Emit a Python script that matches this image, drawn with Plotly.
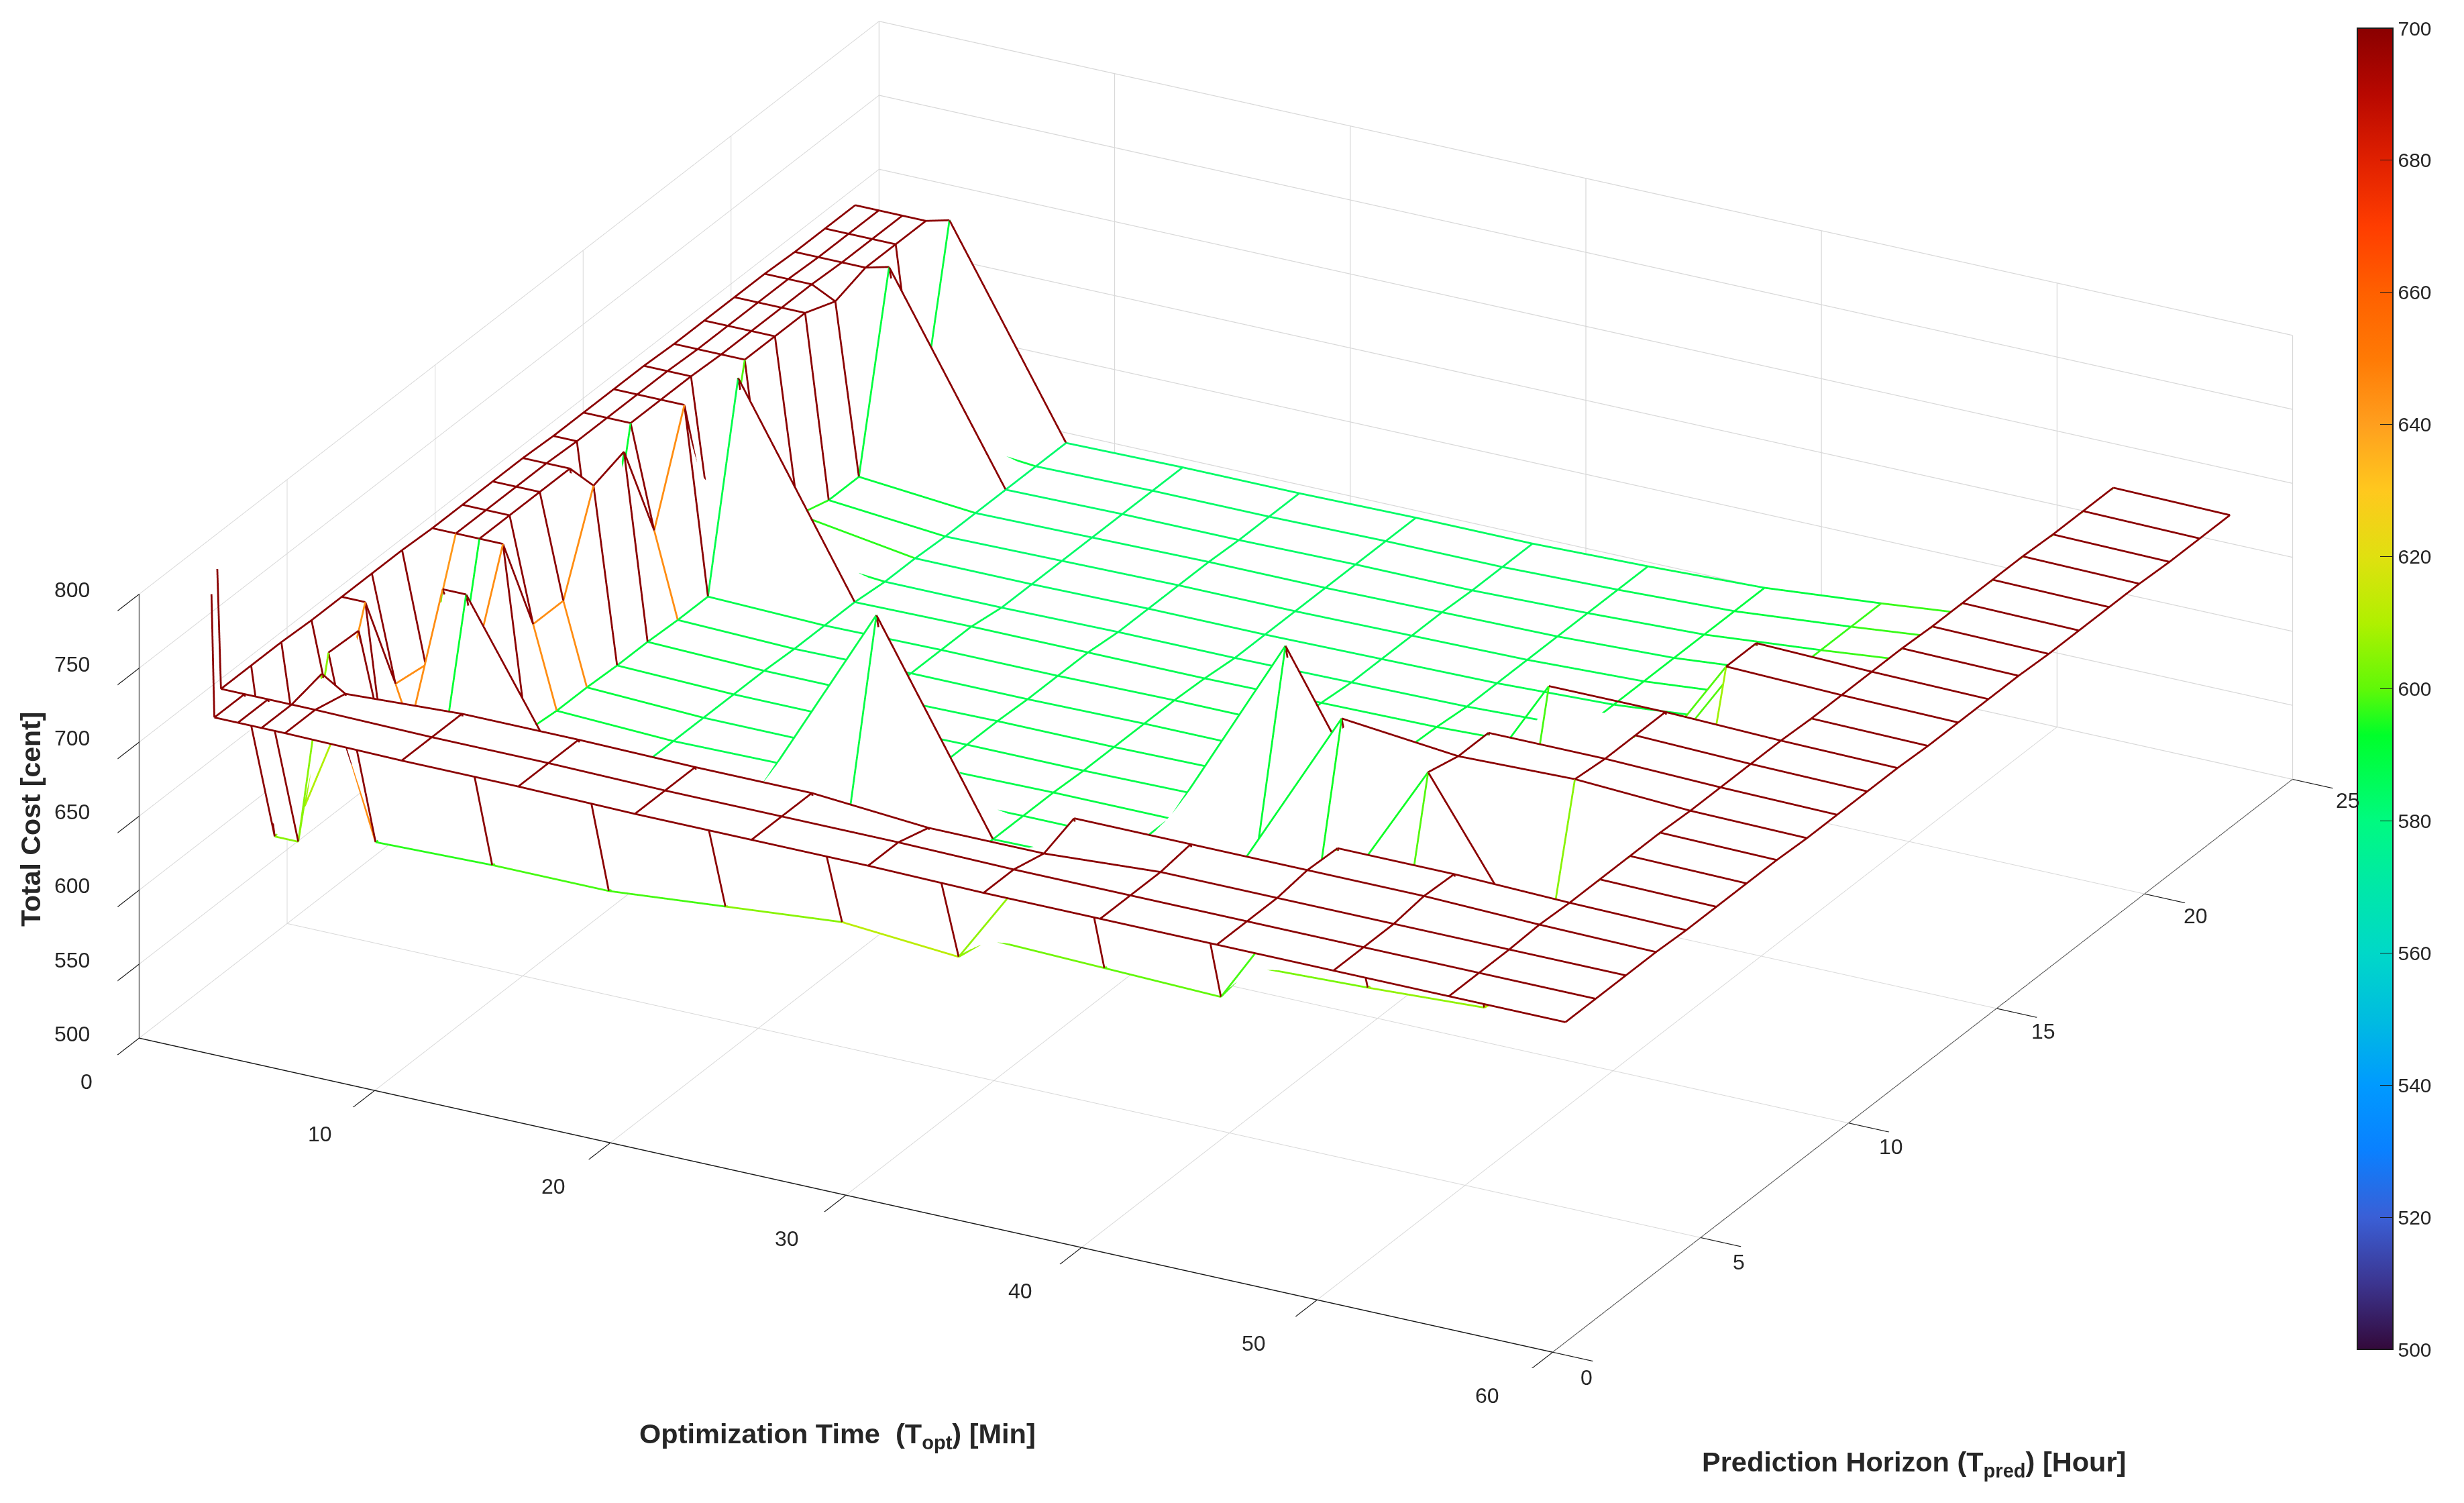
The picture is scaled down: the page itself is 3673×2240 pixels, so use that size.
import plotly.graph_objects as go

# optimization time [min] and prediction horizon [hour] of the grid
t_opt = [1.5, 2.5, 3.5, 4.5, 5.5, 10.45, 15.4, 20.35, 25.3, 30.25, 35.15, 40.1, 45.05, 50, 54.9, 59.85]
t_pred = [0.55, 1.57, 2.59, 3.61, 4.63, 5.65, 6.67, 7.69, 8.71, 9.73, 10.75, 11.77,
          12.80, 13.82, 14.84, 15.86, 16.88, 17.90, 18.92, 19.94, 20.96, 21.98, 23.0]
nan = float('nan')

# total cost [cent], one row per prediction horizon
cost = [
    [1400, 717, 717, 717, 717, 716, 716, 715, 715, 715, 714, 714, 714, 714, 714, 714],
    [717, 717, 717, 717, 717, 716, 716, 715, 715, 715, 714, 714, 714, 714, 714, 714],
    [717, 605, 605, 722, 712, 716, 716, 715, 715, 709, 709, 714, 714, 714, 714, 714],
    [717, 610, 717, 645, 596, 598, 598, 605, 612, 606, 717, 717, 717, 717, 715, 714],
    [716, 643, 716, 648, 592, 592, 591, 591, 592, 602, 600, 598, 716, 716, 714, 713],
    [716, 716, 592, 645, 592, 590, 590, 590, 591, 592, 594, 603, 606, 610, 714, 713],
    [716, 645, 602, 716, 716, 588, 588, 589, 590, 591, 592, 594, 599, 605, 714, 713],
    [716, 642, 592, 645, 592, 587, 588, 589, 590, 590, 591, 594, 720, 605, 714, 713],
    [715, 715, 715, 715, 592, 587, 588, 723, 589, 590, 591, 723, 715, 717, 713, 712],
    [715, 715, 715, 645, 590, 587, 588, 588, 589, 589, 591, 593, 715, 715, 713, 712],
    [715, 715, 715, 645, 590, 587, 587, 588, 589, 589, 723, 593, 598, 715, 713, 712],
    [715, 715, 715, 707, 589, 587, 587, 588, 588, 589, 590, 592, 715, 715, 713, 712],
    [714, 714, 592, 714, 589, 587, 587, 588, 588, 589, 590, 592, nan, 608, 712, 711],
    [714, 714, 714, 645, 588, 586, 587, 587, 588, 588, 590, 592, 599, 714, 712, 711],
    [714, 714, 714, 714, 588, 586, 587, 587, 588, 588, 590, 592, 599, 714, 712, 711],
    [714, 714, 714, 599, 720, 586, 587, 587, 587, 588, 589, 592, 599, 607, 712, 711],
    [713, 713, 713, 713, 590, 584, 584, 585, 585, 586, 587, 590, 597, 605, 711, 710],
    [713, 713, 713, 713, 596, 584, 584, 585, 585, 586, 587, 590, 597, 605, 711, 710],
    [713, 713, 713, 713, 590, 583, 584, 585, 585, 586, 587, 590, 597, 605, 711, 710],
    [713, 713, 713, 705, 590, 583, 584, 585, 585, 586, 587, 590, 597, 605, 711, 710],
    [712, 712, 712, 712, 716, 583, 584, 584, 585, 585, 587, 590, 597, 605, 710, 709],
    [712, 712, 712, 712, 590, 583, 584, 584, 585, 585, 587, 590, 597, 605, 710, 709],
    [712, 712, 712, 712, 716, 583, 584, 584, 585, 585, 587, 590, 597, 605, 710, 709],
]

x_ticks = [0, 10, 20, 30, 40, 50, 60]
y_ticks = [0, 5, 10, 15, 20, 25]
z_ticks = [500, 550, 600, 650, 700, 750, 800]
bar_ticks = [500, 520, 540, 560, 580, 600, 620, 640, 660, 680, 700]

# colormap picked from the colorbar
cmap = [[0.00, '#33093a'], [0.05, '#3c3590'], [0.10, '#3a5fd6'], [0.15, '#0a80ff'],
        [0.20, '#009aff'], [0.25, '#00bce0'], [0.30, '#00d8c8'], [0.35, '#00e8a8'],
        [0.40, '#00fa80'], [0.465, '#00ff2a'], [0.50, '#60f808'], [0.55, '#b0f000'],
        [0.60, '#e0e010'], [0.65, '#ffc81e'], [0.70, '#ff9f1e'], [0.75, '#ff7a05'],
        [0.80, '#ff6000'], [0.85, '#ff3d00'], [0.90, '#e02000'], [0.95, '#b80800'],
        [1.00, '#8a0000']]

# mesh edges, each takes the colour of its lower-index vertex
ex, ey, ez, ec = [], [], [], []
for j, y in enumerate(t_pred):
    for i, x in enumerate(t_opt):
        z = cost[j][i]
        if z != z:
            continue
        if i + 1 < len(t_opt) and cost[j][i + 1] == cost[j][i + 1]:
            ex += [x, t_opt[i + 1], None]
            ey += [y, y, None]
            ez += [z, cost[j][i + 1], None]
            ec += [z, z, z]
        if j + 1 < len(t_pred) and cost[j + 1][i] == cost[j + 1][i]:
            ex += [x, x, None]
            ey += [y, t_pred[j + 1], None]
            ez += [z, cost[j + 1][i], None]
            ec += [z, z, z]

fig = go.Figure()

# white faces hide what is behind the mesh; moved away from the camera along the
# view direction so the lines stay in front from above and from below
faces = [[v - 2 for v in row] for row in cost]
faces[0][0] = nan  # the spike cell would hide its own edges
fig.add_trace(go.Surface(x=[v - 0.13 for v in t_opt], y=[v + 0.10 for v in t_pred], z=faces,
                         colorscale=[[0, 'white'], [1, 'white']], showscale=False,
                         hoverinfo='skip',
                         lighting=dict(ambient=1, diffuse=0, specular=0, fresnel=0)))

fig.add_trace(go.Scatter3d(x=ex, y=ey, z=ez, mode='lines', connectgaps=False,
                           line=dict(width=5.5, color=ec, colorscale=cmap, cmin=500, cmax=700,
                                     colorbar=dict(x=3506 / 3673, xanchor='left', y=1 - 34 / 2240,
                                                   yanchor='top', lenmode='pixels', len=1969,
                                                   thickness=53, thicknessmode='pixels',
                                                   tickvals=bar_ticks, ticks='inside', ticklen=20,
                                                   tickcolor='#1a1a1a', outlinecolor='#1a1a1a',
                                                   outlinewidth=2, xpad=0, ypad=0,
                                                   tickfont=dict(size=30, color='#262626')))))

axis = dict(showbackground=False, showgrid=True, gridcolor='#d8d8d8', gridwidth=2.5,
            zeroline=False, showline=True, linecolor='#1a1a1a', linewidth=3,
            ticks='outside', ticklen=68, tickcolor='#1a1a1a', tickwidth=3,
            showspikes=False, showticklabels=False, title='')

direction = (0.4297, -0.8021, 0.4147)
zoom = 4


def tick_label(x, y, z, text, dx, dy):
    return dict(x=x, y=y, z=z, text=text, showarrow=False, xshift=dx, yshift=dy,
                xanchor='center', yanchor='middle', font=dict(size=32, color='#262626'))


scene_labels = ([tick_label(v, 0, 500, str(v), -78 - 0.33 * v, -65) for v in x_ticks]
                + [tick_label(60, v, 500, str(v), 50 + 1.3 * v, -38 + 0.25 * v) for v in y_ticks]
                + [tick_label(0, 0, v, str(v), -100, 6) for v in z_ticks])

fig.update_layout(
    width=3673, height=2240, margin=dict(l=0, r=0, t=0, b=0),
    paper_bgcolor='white', showlegend=False,
    font=dict(family='Liberation Sans', color='#262626'),
    scene=dict(
        domain=dict(x=[0.0, 0.9827], y=[0.0934, 1.0]),
        aspectmode='manual', aspectratio=dict(x=2.354, y=2.30, z=0.716),
        camera=dict(projection=dict(type='orthographic'),
                    eye=dict(x=direction[0] * zoom, y=direction[1] * zoom, z=direction[2] * zoom),
                    center=dict(x=0, y=0, z=0), up=dict(x=0, y=0, z=1)),
        xaxis=dict(axis, range=[0, 60], tickvals=x_ticks),
        yaxis=dict(axis, range=[0, 25], tickvals=y_ticks),
        zaxis=dict(axis, range=[500, 800], tickvals=z_ticks),
        annotations=scene_labels,
    ),
    annotations=[
        dict(text='<b>Optimization Time  (T<sub>opt</sub>) [Min]</b>', x=1240 / 3673, y=1 - 2131 / 2240,
             xanchor='center', yanchor='middle', xref='paper', yref='paper', showarrow=False, font=dict(size=41.5)),
        dict(text='<b>Prediction Horizon (T<sub>pred</sub>) [Hour]</b>', x=2845 / 3673, y=1 - 2173 / 2240,
             xanchor='center', yanchor='middle', xref='paper', yref='paper', showarrow=False, font=dict(size=41.5)),
        dict(text='<b>Total Cost [cent]</b>', x=38 / 3673, y=1 - 1213 / 2240, textangle=-90,
             xanchor='center', yanchor='middle', xref='paper', yref='paper', showarrow=False, font=dict(size=41)),
    ],
)

fig.write_html("out.html")
